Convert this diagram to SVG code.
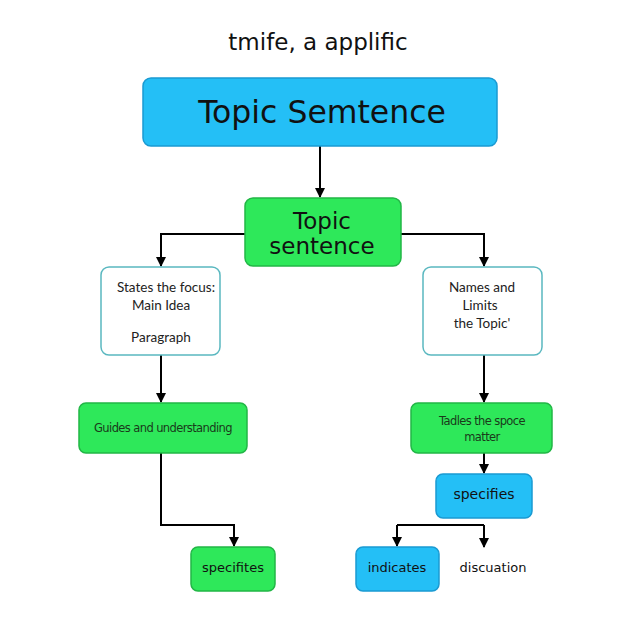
<svg xmlns="http://www.w3.org/2000/svg" width="640" height="640" viewBox="0 0 640 640">
<defs>
<marker id="ah" viewBox="0 0 10 10" refX="9" refY="5" markerWidth="5" markerHeight="5" orient="auto">
<path d="M0,0 L10,5 L0,10 z" fill="#000"/>
</marker>
<style>
.blue{fill:#24bff6;stroke:#1a9ad2;stroke-width:1.5}
.green{fill:#2ee85a;stroke:#22b646;stroke-width:1.5}
.white{fill:#fff;stroke:#5ab8c0;stroke-width:1.5}
.c{fill:none;stroke:#000;stroke-width:2;marker-end:url(#ah)}
.l{fill:none;stroke:#000;stroke-width:2}
.t{font-family:"DejaVu Sans",sans-serif;fill:#111;text-anchor:middle}
.s{font-family:"Lato","Noto Sans",sans-serif;fill:#222;text-anchor:middle;font-size:13.5px}
.g{font-family:"DejaVu Sans",sans-serif;fill:#1a3a1a;text-anchor:middle;font-size:11.5px;letter-spacing:-0.6px}
</style>
</defs>
<rect width="640" height="640" fill="#fff"/>
<text class="t" x="318" y="50" font-size="23">tmife, a applific</text>
<g id="connectors">
<path class="c" d="M320,146 V197"/>
<path class="c" d="M245,234 H161 V266"/>
<path class="c" d="M401,234 H484 V266"/>
<path class="c" d="M161,355 V402"/>
<path class="c" d="M161,453 V525 H234 V546"/>
<path class="c" d="M484,355 V402"/>
<path class="c" d="M484,453 V473"/>
<path class="l" d="M397,525 H484"/>
<path class="c" d="M397,525 V546"/>
<path class="c" d="M484,525 V547"/>
</g>
<g id="n1"><rect class="blue" x="143" y="78" width="354" height="68" rx="8"/>
<text class="t" x="322" y="123" font-size="31.5">Topic Semtence</text></g>
<g id="n2"><rect class="green" x="245" y="198" width="156" height="68" rx="8"/>
<text class="t" x="322" y="229" font-size="23">Topic</text>
<text class="t" x="322" y="254" font-size="23">sentence</text></g>
<g id="n3"><rect class="white" x="101" y="267" width="119" height="88" rx="8"/>
<text class="s" x="166" y="292">States the focus:</text>
<text class="s" x="161" y="310">Main Idea</text>
<text class="s" x="161" y="342">Paragraph</text></g>
<g id="n4"><rect class="white" x="423" y="267" width="119" height="88" rx="8"/>
<text class="s" x="482" y="292">Names and</text>
<text class="s" x="480" y="310">Limits</text>
<text class="s" x="482" y="328">the Topic'</text></g>
<g id="n5"><rect class="green" x="79" y="403" width="168" height="50" rx="7"/>
<text class="g" x="163" y="432">Guides and understanding</text></g>
<g id="n6"><rect class="green" x="411" y="403" width="141" height="50" rx="7"/>
<text class="g" x="482" y="425">Tadles the spoce</text>
<text class="g" x="482" y="441">matter</text></g>
<g id="n7"><rect class="blue" x="436" y="474" width="96" height="44" rx="7"/>
<text class="t" x="484" y="499" font-size="14">specifies</text></g>
<g id="n8"><rect class="green" x="191" y="547" width="84" height="44" rx="7"/>
<text class="t" x="233" y="572" font-size="13">specifites</text></g>
<g id="n9"><rect class="blue" x="356" y="547" width="83" height="44" rx="7"/>
<text class="t" x="397" y="572" font-size="13">indicates</text></g>
<g id="n10"><text class="t" x="493" y="572" font-size="13">discuation</text></g>
</svg>
